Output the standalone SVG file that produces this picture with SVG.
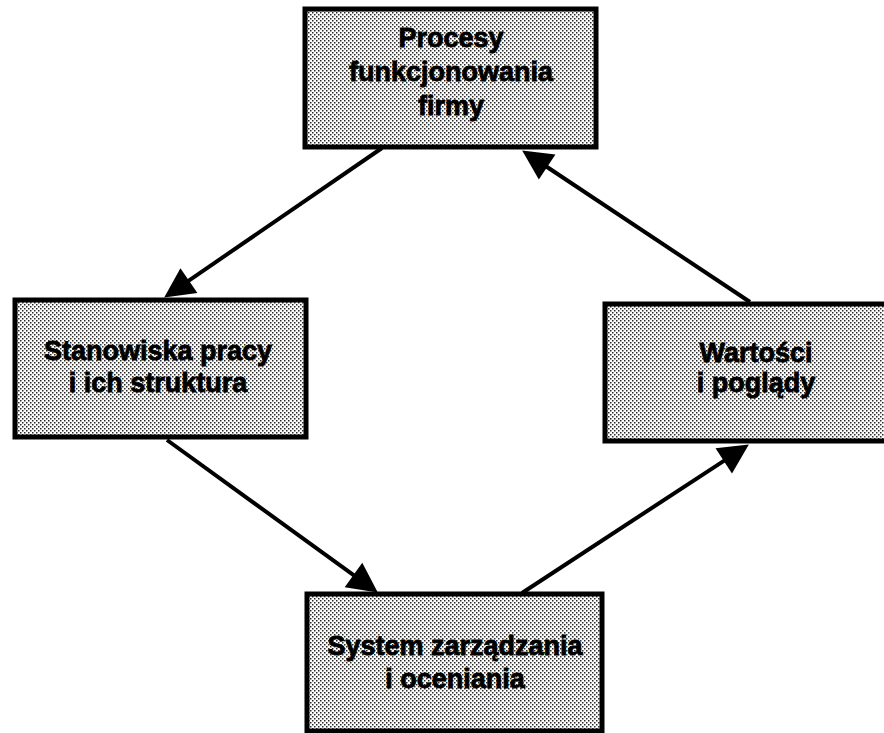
<svg xmlns="http://www.w3.org/2000/svg" width="884" height="733" viewBox="0 0 884 733">
  <style>
    .box { fill: url(#halftone); stroke: #000; stroke-width: 5; }
    .label { font-family: "Liberation Sans", Arial, sans-serif; font-weight: bold; font-size: 27px; fill: #000; stroke: #000; stroke-width: 0.8; text-anchor: middle; }
    .link { stroke: #000; stroke-width: 4; fill: none; marker-end: url(#head); }
  </style>
  <defs>
    <!-- dotted screen used as box fill -->
    <pattern id="halftone" width="4" height="4" patternUnits="userSpaceOnUse">
      <rect width="4" height="4" fill="#fdfdfd"/>
      <rect x="0" y="0" width="1.5" height="1.5" fill="#2a2a2a"/>
      <rect x="2" y="2" width="1.5" height="1.5" fill="#2a2a2a"/>
    </pattern>
    <marker id="head" markerUnits="userSpaceOnUse" markerWidth="32" markerHeight="32" refX="1" refY="15" orient="auto" overflow="visible">
      <path d="M0,0 L30,15 L0,30 Z" fill="#000"/>
    </marker>
  </defs>

  <rect width="884" height="733" fill="#fff"/>

  <g id="connectors">
    <line class="link" x1="382" y1="148" x2="188.1" y2="281.1"/>
    <line class="link" x1="167" y1="440" x2="354.3" y2="575.6"/>
    <line class="link" x1="522" y1="593" x2="724.6" y2="460.3"/>
    <line class="link" x1="750" y1="302" x2="546.3" y2="166.5"/>
  </g>

  <g id="procesy">
    <rect class="box" x="305" y="9" width="291" height="138"/>
    <text class="label" x="451" y="47">Procesy</text>
    <text class="label" x="451" y="81">funkcjonowania</text>
    <text class="label" x="451" y="115">firmy</text>
  </g>

  <g id="stanowiska">
    <rect class="box" x="15" y="300" width="291" height="137"/>
    <text class="label" x="158" y="360">Stanowiska pracy</text>
    <text class="label" x="158" y="392">i ich struktura</text>
  </g>

  <g id="wartosci">
    <rect class="box" x="605" y="304" width="300" height="137"/>
    <text class="label" x="756" y="362">Wartości</text>
    <text class="label" x="756" y="392">i poglądy</text>
  </g>

  <g id="system">
    <rect class="box" x="307" y="594" width="295" height="137"/>
    <text class="label" x="455" y="655">System zarządzania</text>
    <text class="label" x="455" y="688">i oceniania</text>
  </g>
</svg>
